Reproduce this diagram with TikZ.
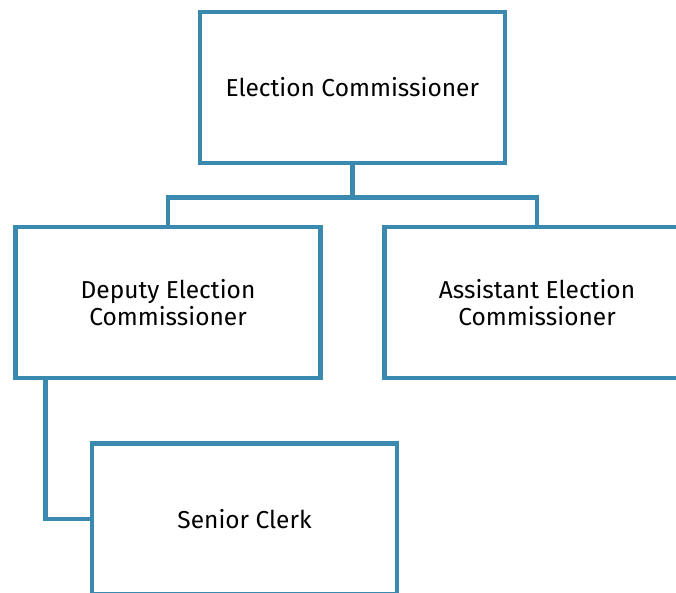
\documentclass[tikz,border=0pt]{standalone}
\usepackage{fontspec}
\setmainfont{Fira Sans}
\usepackage{tikz}
\definecolor{post}{HTML}{3A89AF}

\begin{document}
\begin{tikzpicture}[x=1pt,y=-1pt,
    postbox/.style={draw=post,line width=4.5pt,fill=white,
      minimum width=305pt,minimum height=151pt,align=center,
      font=\fontsize{24.5}{27}\selectfont},
    link/.style={draw=post,line width=4.5pt}]
        \useasboundingbox (0,0) rectangle (676,592);

        \path
        (352.25,87.5) node[postbox] (ec) {Election Commissioner}
        (168,302.5) node[postbox] (dec) {Deputy Election\\Commissioner}
        (537,302.5) node[postbox] (aec) {Assistant Election\\Commissioner}
        (244.5,519) node[postbox] (sc) {Senior Clerk}
        ;

        \path (ec.south) ++(0,32) coordinate (bar);
        \draw[link] (ec.south) -- (bar) -| (dec.north);
        \draw[link] (bar) -| (aec.north);
        \draw[link] ([xshift=32pt]dec.south west) |- (sc.west);
      \end{tikzpicture}
\end{document}
